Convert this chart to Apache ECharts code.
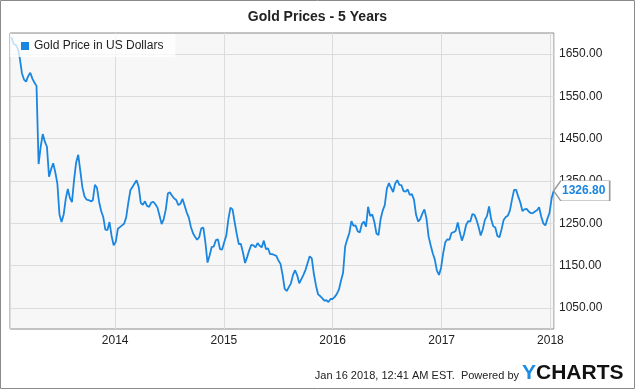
<!DOCTYPE html>
<html><head><meta charset="utf-8">
<script src="https://cdn.jsdelivr.net/npm/echarts@6/dist/echarts.min.js"></script>
<style>html,body{margin:0;padding:0;background:#fff}#c{width:635px;height:389px}</style>
</head><body><div id="c"></div>
<script>
const chartTitle = 'Gold Prices - 5 Years';
const seriesName = 'Gold Price in US Dollars';
// weekly samples starting Friday 2013-01-18
const startDate = [2013, 0, 18];
const stepDays = 7;
const prices = [
1690,1674,1672,1664,1640,1605,1590,1585,1598,1606,
1592,1583,1575,1390,1431,1461,1443,1431,1360,1378,
1392,1371,1344,1271,1253,1270,1307,1331,1310,1300,
1352,1394,1412,1374,1335,1314,1306,1305,1302,1304,
1341,1334,1301,1279,1265,1235,1234,1253,1220,1198,
1206,1237,1241,1245,1249,1264,1298,1328,1336,1344,
1352,1336,1298,1294,1302,1291,1289,1299,1301,1295,
1287,1268,1248,1260,1283,1321,1323,1315,1309,1305,
1293,1296,1308,1292,1276,1264,1242,1227,1218,1211,
1217,1238,1240,1204,1157,1174,1194,1195,1210,1212,
1189,1188,1205,1221,1260,1287,1283,1253,1225,1201,
1201,1181,1156,1170,1186,1199,1198,1193,1203,1197,
1193,1209,1189,1191,1177,1177,1175,1173,1162,1154,
1128,1095,1090,1099,1108,1128,1139,1127,1108,1118,
1128,1140,1156,1172,1167,1130,1103,1082,1078,1073,
1067,1068,1064,1071,1071,1076,1083,1093,1114,1133,
1195,1212,1227,1255,1244,1245,1231,1228,1248,1254,
1242,1289,1267,1271,1253,1226,1222,1260,1280,1293,
1332,1345,1334,1324,1344,1352,1341,1340,1326,1325,
1330,1317,1319,1306,1270,1254,1260,1273,1283,1261,
1219,1198,1179,1164,1138,1128,1145,1179,1205,1212,
1211,1227,1229,1232,1252,1228,1209,1224,1246,1255,
1254,1272,1270,1258,1241,1221,1236,1258,1267,1290,
1260,1243,1240,1220,1217,1236,1258,1265,1268,1280,
1306,1329,1329,1313,1299,1279,1283,1284,1278,1274,
1274,1278,1281,1288,1266,1250,1245,1261,1275,1309,
1326.8
];
const yTicks = [1050, 1150, 1250, 1350, 1450, 1550, 1650];
const xYears = [2014, 2015, 2016, 2017, 2018];
const xRange = [[2013, 0, 13], [2018, 0, 13]];
const footerText = 'Jan 16 2018, 12:41 AM EST.  Powered by';
const logoY = 'Y';
const logoRest = 'CHARTS';

const FONT = '"Liberation Sans", Arial, Helvetica, sans-serif';
const BLUE = '#1a86e0';

const data = prices.map((v, i) => [new Date(startDate[0], startDate[1], startDate[2] + i * stepDays).getTime(), v]);
const last = data[data.length - 1];

const chart = echarts.init(document.getElementById('c'), null, {renderer: 'canvas'});
chart.setOption({
  animation: false,
  backgroundColor: '#fff',
  textStyle: {fontFamily: FONT},
  title: {
    text: chartTitle, left: 'center', top: 10, padding: 0,
    textStyle: {fontSize: 14, fontWeight: 'bold', color: '#222', fontFamily: FONT}
  },
  legend: {
    data: [{name: seriesName, icon: 'rect'}],
    left: 10, top: 34, padding: [6, 12, 5, 11],
    itemWidth: 8, itemHeight: 8,
    backgroundColor: 'rgba(255,255,255,0.75)', borderWidth: 0,
    selectedMode: false, z: 10,
    textStyle: {fontSize: 12, color: '#222', fontFamily: FONT}
  },
  grid: {
    left: 10, right: 81, top: 33, bottom: 60,
    show: true, backgroundColor: '#f7f7f7', borderColor: '#8a8a8a', borderWidth: 1,
    containLabel: false, outerBoundsMode: 'none'
  },
  xAxis: {
    type: 'time',
    min: new Date(...xRange[0]).getTime(),
    max: new Date(...xRange[1]).getTime(),
    minInterval: 365 * 864e5,
    splitNumber: 5,
    axisLine: {show: false}, axisTick: {show: false},
    splitLine: {show: true, lineStyle: {color: '#dcdcdc', width: 1}},
    axisLabel: {
      margin: 6, color: '#222', fontSize: 12, fontFamily: FONT,
      showMinLabel: false, showMaxLabel: false, hideOverlap: false,
      formatter: (v) => {
        const d = new Date(v);
        return (d.getMonth() === 0 && d.getDate() === 1 && xYears.includes(d.getFullYear())) ? String(d.getFullYear()) : '';
      }
    }
  },
  yAxis: {
    type: 'value', position: 'right',
    min: 1000, max: 1700, interval: 50,
    axisLine: {show: false}, axisTick: {show: false},
    splitLine: {show: true, lineStyle: {color: ['rgba(0,0,0,0)', '#dcdcdc'], width: 1}},
    axisLabel: {
      margin: 5, color: '#222', fontSize: 12, fontFamily: FONT,
      formatter: (v) => yTicks.includes(v) ? v.toFixed(2) : ''
    }
  },
  series: [{
    type: 'line', name: seriesName, data: data,
    showSymbol: false, symbol: 'none',
    lineStyle: {color: BLUE, width: 1.8},
    itemStyle: {color: BLUE},
    z: 3,
    markPoint: {
      symbol: 'path://M0,10L7,0L56,0L56,20L7,20Z',
      symbolSize: [56, 20], symbolKeepAspect: false,
      symbolOffset: ['50%', 0],
      silent: true, z: 10,
      itemStyle: {color: '#fff', borderColor: '#9a9a9a', borderWidth: 1},
      label: {
        show: true, position: 'inside', offset: [2, 0],
        formatter: () => last[1].toFixed(2),
        color: BLUE, fontWeight: 'bold', fontSize: 12, fontFamily: FONT
      },
      data: [{coord: last}]
    }
  }],
  graphic: [
    {type: 'rect', silent: true, z: -10,
     shape: {x: 0.5, y: 0.5, width: 634, height: 388},
     style: {fill: 'none', stroke: '#8a8a8a', lineWidth: 1}},
    {type: 'text', x: 519, y: 376, silent: true,
     style: {text: footerText, align: 'right', verticalAlign: 'middle', fontSize: 11, fontFamily: FONT, fill: '#222'}},
    {type: 'text', x: 522, y: 373, silent: true,
     style: {text: logoY, align: 'left', verticalAlign: 'middle', fontSize: 21, fontWeight: 'bold', fontFamily: FONT, fill: '#1a8ce6'}},
    {type: 'text', x: 536, y: 373, silent: true,
     style: {text: logoRest, align: 'left', verticalAlign: 'middle', fontSize: 21, fontWeight: 'bold', fontFamily: FONT, fill: '#111'}}
  ]
});
</script>
</body></html>
